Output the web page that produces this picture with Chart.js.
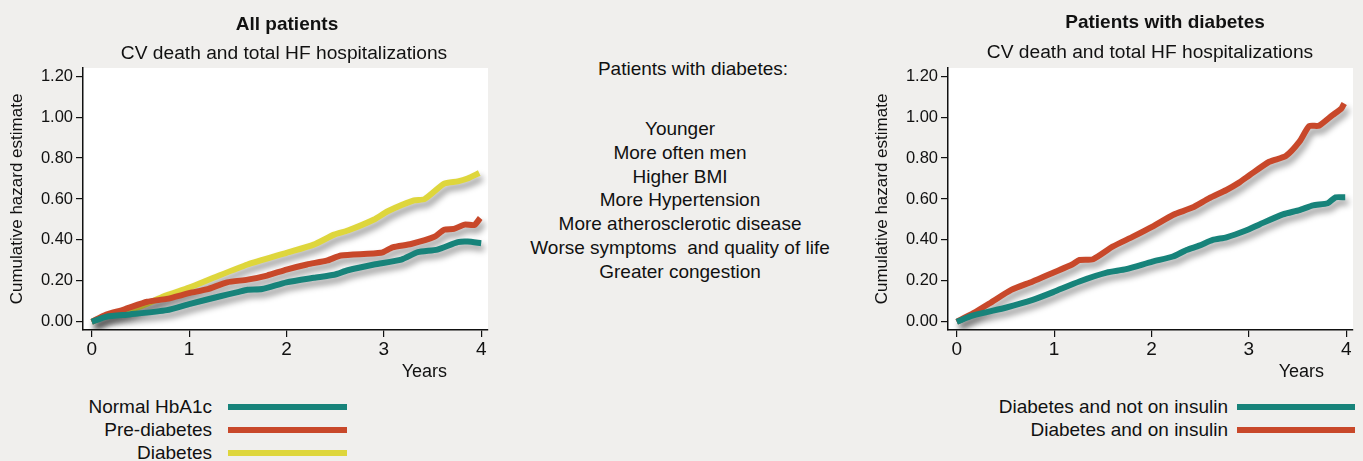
<!DOCTYPE html>
<html>
<head>
<meta charset="utf-8">
<script src="https://cdn.jsdelivr.net/npm/chart.js@4.4.1/dist/chart.umd.min.js"></script>
<style>
  body { margin: 0; background: #f0efed; font-family: "Liberation Sans", Arial, sans-serif; color: #111; }
  #page { position: relative; width: 1363px; height: 461px; overflow: hidden; }
  canvas { position: absolute; top: 0; }
  .txt { position: absolute; white-space: pre; transform: translate(-50%, -50%); line-height: 1; }
  .bold { font-weight: bold; }
  .legend-label { position: absolute; white-space: pre; font-size: 19px; line-height: 20px; transform: translateY(-50%); }
  .legend-line { position: absolute; height: 6px; transform: translateY(-50%); }
</style>
</head>
<body>
<div id="page">
  <canvas id="allChart" width="500" height="390" style="left:0"></canvas>
  <canvas id="diabChart" width="500" height="390" style="left:865px"></canvas>

  <div class="txt bold" style="left:287px;top:23px;font-size:19px">All patients</div>
  <div class="txt" style="left:284px;top:53px;font-size:19.2px">CV death and total HF hospitalizations</div>
  <div class="txt bold" style="left:1165px;top:21px;font-size:19px">Patients with diabetes</div>
  <div class="txt" style="left:1150px;top:52px;font-size:19.2px">CV death and total HF hospitalizations</div>

  <div id="notes"></div>
  <div id="allLegend"></div>
  <div id="diabLegend"></div>
</div>

<script>
// axis ticks
const xTicks = [0, 1, 2, 3, 4];
const yTicks = [0, 0.2, 0.4, 0.6, 0.8, 1.0, 1.2];

// All patients: cumulative hazard by glycaemic status
const normalYears = [0, 0.15, 0.39, 0.77, 1.01, 1.32, 1.5, 1.6, 1.75, 2.0, 2.28, 2.49, 2.63, 2.9, 3.18, 3.35, 3.55, 3.76, 3.86, 4.0];
const normalHaz   = [0, 0.025, 0.036, 0.057, 0.088, 0.125, 0.145, 0.157, 0.16, 0.193, 0.215, 0.23, 0.252, 0.28, 0.304, 0.34, 0.353, 0.389, 0.392, 0.384];

const preYears = [0, 0.15, 0.33, 0.57, 0.77, 1.01, 1.18, 1.39, 1.6, 1.8, 2.0, 2.21, 2.42, 2.56, 2.97, 3.09, 3.28, 3.52, 3.62, 3.72, 3.83, 3.93, 3.99];
const preHaz   = [0, 0.036, 0.06, 0.098, 0.112, 0.141, 0.158, 0.193, 0.206, 0.226, 0.255, 0.28, 0.3, 0.324, 0.337, 0.364, 0.38, 0.415, 0.45, 0.454, 0.475, 0.473, 0.507];

const diabYears = [0, 0.15, 0.35, 0.57, 0.74, 1.0, 1.25, 1.6, 2.0, 2.28, 2.49, 2.63, 2.9, 3.04, 3.31, 3.42, 3.62, 3.76, 3.86, 3.98];
const diabHaz   = [0, 0.03, 0.05, 0.088, 0.125, 0.167, 0.215, 0.28, 0.337, 0.377, 0.426, 0.446, 0.5, 0.54, 0.593, 0.6, 0.675, 0.686, 0.70, 0.727];

// Patients with diabetes: by insulin use
const noInsYears = [0, 0.17, 0.51, 0.78, 0.99, 1.26, 1.54, 1.74, 2.01, 2.22, 2.36, 2.49, 2.63, 2.77, 2.97, 3.11, 3.35, 3.52, 3.66, 3.81, 3.89, 3.99];
const noInsHaz   = [0, 0.031, 0.07, 0.107, 0.145, 0.197, 0.24, 0.257, 0.294, 0.319, 0.351, 0.372, 0.4, 0.413, 0.446, 0.476, 0.525, 0.546, 0.569, 0.579, 0.608, 0.608];

const insYears = [0, 0.17, 0.34, 0.56, 0.78, 0.99, 1.19, 1.26, 1.4, 1.6, 1.81, 2.01, 2.22, 2.42, 2.59, 2.77, 2.9, 3.01, 3.21, 3.38, 3.52, 3.62, 3.72, 3.86, 3.95, 3.98];
const insHaz   = [0, 0.042, 0.091, 0.156, 0.197, 0.24, 0.281, 0.302, 0.306, 0.367, 0.416, 0.465, 0.522, 0.558, 0.603, 0.644, 0.68, 0.717, 0.782, 0.81, 0.88, 0.956, 0.958, 1.01, 1.042, 1.067];

const noteTitle = "Patients with diabetes:";
const noteLines = [
  "Younger",
  "More often men",
  "Higher BMI",
  "More Hypertension",
  "More atherosclerotic disease",
  "Worse symptoms  and quality of life",
  "Greater congestion",
];

const TEAL = "#17837a";
const RED = "#c8482a";
const YELLOW = "#ded63c";
const FONT = "'Liberation Sans', Arial, sans-serif";

const toPoints = (xs, ys) => xs.map((x, i) => ({x: x, y: ys[i]}));

const series = (label, xs, ys, color) => ({
  label: label,
  data: toPoints(xs, ys),
  borderColor: color,
  backgroundColor: color,
  borderWidth: 6,
  pointRadius: 0,
  fill: false,
  tension: 0.2,
  borderJoinStyle: "round",
});

// white plotting area behind the curves
const plotBackground = {
  id: "plotBackground",
  beforeDraw(chart) {
    const {ctx, chartArea: a} = chart;
    ctx.save();
    ctx.fillStyle = "#ffffff";
    ctx.fillRect(a.left, a.top, a.right - a.left, a.bottom - a.top);
    ctx.restore();
  },
};

// soft drop shadow under the curves
const lineShadow = {
  id: "lineShadow",
  beforeDatasetsDraw(chart) {
    const ctx = chart.ctx;
    ctx.save();
    ctx.shadowColor = "rgba(0,0,0,0.4)";
    ctx.shadowBlur = 6;
    ctx.shadowOffsetX = 3;
    ctx.shadowOffsetY = 5;
  },
  afterDatasetsDraw(chart) {
    chart.ctx.restore();
  },
};

// "Years" caption under the x axis, set in from the right edge
const yearsLabel = {
  id: "yearsLabel",
  afterDraw(chart, args, opts) {
    const {ctx, chartArea: a} = chart;
    ctx.save();
    ctx.font = "18px " + FONT;
    ctx.fillStyle = "#111";
    ctx.textAlign = "right";
    ctx.textBaseline = "middle";
    ctx.fillText("Years", a.right - opts.inset, a.bottom + 42);
    ctx.restore();
  },
};

function makeChart(id, datasets, yearsInset) {
  return new Chart(document.getElementById(id), {
    type: "line",
    data: {datasets: datasets},
    plugins: [plotBackground, lineShadow, yearsLabel],
    options: {
      responsive: false,
      animation: false,
      devicePixelRatio: 1,
      layout: {padding: {top: 68, right: 12, left: 0, bottom: 0}},
      plugins: {
        legend: {display: false},
        tooltip: {enabled: false},
        yearsLabel: {inset: yearsInset},
      },
      scales: {
        x: {
          type: "linear",
          min: -0.09,
          max: 4.07,
          afterBuildTicks: (s) => { s.ticks = xTicks.map((v) => ({value: v})); },
          afterFit: (s) => { s.height = 60; },
          border: {display: true, color: "#111", width: 1.5},
          grid: {drawOnChartArea: false, drawTicks: true, tickLength: 7, color: "#111", lineWidth: 1.2},
          ticks: {color: "#111", font: {size: 19, family: FONT}, padding: 1, maxRotation: 0},
        },
        y: {
          type: "linear",
          min: -0.04,
          max: 1.24,
          afterBuildTicks: (s) => { s.ticks = yTicks.map((v) => ({value: v})); },
          afterFit: (s) => { s.width = 83; },
          border: {display: true, color: "#111", width: 1.5},
          grid: {drawOnChartArea: false, drawTicks: true, tickLength: 7, color: "#111", lineWidth: 1.2},
          ticks: {color: "#111", font: {size: 16.5, family: FONT}, padding: 3, callback: (v) => v.toFixed(2)},
          title: {
            display: true,
            text: "Cumulative hazard estimate",
            color: "#111",
            font: {size: 17, family: FONT},
            padding: {top: 7, bottom: 0},
          },
        },
      },
    },
  });
}

const allChart = makeChart("allChart", [
  series("Normal HbA1c", normalYears, normalHaz, TEAL),
  series("Pre-diabetes", preYears, preHaz, RED),
  series("Diabetes", diabYears, diabHaz, YELLOW),
], 41);

const diabChart = makeChart("diabChart", [
  series("Diabetes and not on insulin", noInsYears, noInsHaz, TEAL),
  series("Diabetes and on insulin", insYears, insHaz, RED),
], 29);

// legends: label right-aligned, colour bar to its right
function buildLegend(chart, el, textRight, lineLeft, lineRight, firstY) {
  chart.data.datasets.forEach((ds, i) => {
    const y = firstY + i * 23;
    const label = document.createElement("div");
    label.className = "legend-label";
    label.textContent = ds.label;
    label.style.right = (1363 - textRight) + "px";
    label.style.top = y + "px";
    el.appendChild(label);
    const bar = document.createElement("div");
    bar.className = "legend-line";
    bar.style.left = lineLeft + "px";
    bar.style.width = (lineRight - lineLeft) + "px";
    bar.style.top = y + "px";
    bar.style.background = ds.borderColor;
    el.appendChild(bar);
  });
}
buildLegend(allChart, document.getElementById("allLegend"), 212, 228, 347, 407);
buildLegend(diabChart, document.getElementById("diabLegend"), 1228, 1237, 1355, 407);

// centre notes
const notes = document.getElementById("notes");
const head = document.createElement("div");
head.className = "txt";
head.style.cssText = "left:693px;top:68px;font-size:19px";
head.textContent = noteTitle;
notes.appendChild(head);
noteLines.forEach((t, i) => {
  const d = document.createElement("div");
  d.className = "txt";
  d.style.cssText = "left:680px;top:" + (128 + i * 23.8) + "px;font-size:19px";
  d.textContent = t;
  notes.appendChild(d);
});
</script>
</body>
</html>
